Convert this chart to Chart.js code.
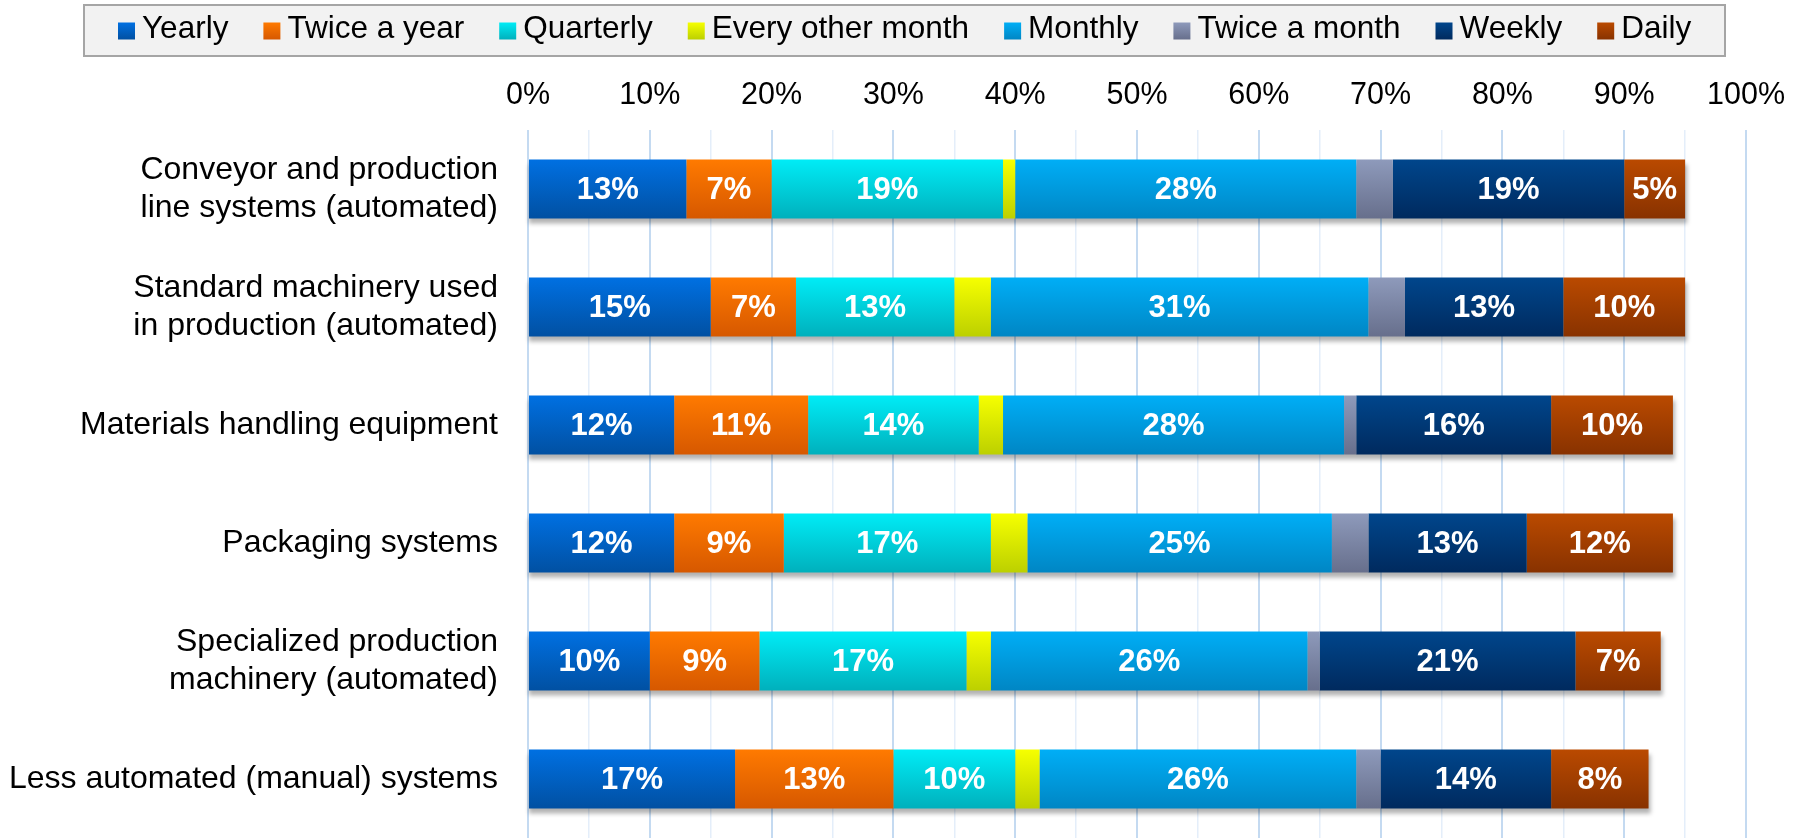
<!DOCTYPE html>
<html>
<head>
<meta charset="utf-8">
<script src="https://cdn.jsdelivr.net/npm/chart.js@4.4.1/dist/chart.umd.min.js"></script>
<style>
    html, body { margin: 0; padding: 0; background: #ffffff; }
    #wrap { width: 1806px; height: 838px; position: relative; }
</style>
</head>
<body>
<div id="wrap"><canvas id="chart"></canvas></div>
<script>
// Maintenance frequency by equipment type (% of respondents).
const CATEGORIES = [
    ['Conveyor and production', 'line systems (automated)'],
    ['Standard machinery used', 'in production (automated)'],
    'Materials handling equipment',
    'Packaging systems',
    ['Specialized production', 'machinery (automated)'],
    'Less automated (manual) systems',
];

const SERIES_NAMES = [
    'Yearly', 'Twice a year', 'Quarterly', 'Every other month',
    'Monthly', 'Twice a month', 'Weekly', 'Daily'
];

const YEARLY            = [13, 15, 12, 12, 10, 17];
const TWICE_A_YEAR      = [7, 7, 11, 9, 9, 13];
const QUARTERLY         = [19, 13, 14, 17, 17, 10];
const EVERY_OTHER_MONTH = [1, 3, 2, 3, 2, 2];
const MONTHLY           = [28, 31, 28, 25, 26, 26];
const TWICE_A_MONTH     = [3, 3, 1, 3, 1, 2];
const WEEKLY            = [19, 13, 16, 13, 21, 14];
const DAILY             = [5, 10, 10, 12, 7, 8];

const TICK_LABELS = ['0%', '10%', '20%', '30%', '40%', '50%', '60%', '70%', '80%', '90%', '100%'];

// [top, bottom] of each bar's vertical gradient
const SERIES_COLORS = [
    ['#0070e2', '#0150a2'],
    ['#ff7a00', '#d65800'],
    ['#00ecf6', '#00b0bc'],
    ['#f6ff00', '#bcd000'],
    ['#00aef6', '#0086c4'],
    ['#8e9abb', '#676f8c'],
    ['#00468c', '#002a5e'],
    ['#ba4a00', '#883200'],
];

const SERIES_VALUES = [YEARLY, TWICE_A_YEAR, QUARTERLY, EVERY_OTHER_MONTH, MONTHLY, TWICE_A_MONTH, WEEKLY, DAILY];

const FONT = '"Liberation Sans", Arial, sans-serif';

function barGradient(top, bottom) {
    return c => {
        const ys = c.chart.scales.y;
        if (c.type !== 'data' || !ys) return top;
        const yc = ys.getPixelForValue(c.dataIndex);
        const half = Math.abs(ys.getPixelForValue(1) - ys.getPixelForValue(0)) / 4;
        if (!isFinite(yc) || !isFinite(half) || half <= 0) return top;
        const g = c.chart.ctx.createLinearGradient(0, yc - half, 0, yc + half);
        g.addColorStop(0, top);
        g.addColorStop(1, bottom);
        return g;
    };
}

// Soft grey shadow under each stacked row.
const rowShadow = {
    id: 'rowShadow',
    beforeDatasetsDraw(chart) {
        const { ctx, scales: { x } } = chart;
        const meta = chart.getDatasetMeta(0);
        ctx.save();
        ctx.filter = 'blur(2px)';
        ctx.fillStyle = 'rgba(0,0,0,0.30)';
        meta.data.forEach((el, i) => {
            const total = SERIES_VALUES.reduce((s, arr) => s + arr[i], 0);
            const x0 = x.getPixelForValue(0);
            const x1 = x.getPixelForValue(total);
            ctx.fillRect(x0 + 1, el.y - el.height / 2 + 5, x1 - x0 + 1, el.height);
        });
        ctx.restore();
    },
};

// White percent labels centred in each segment.
const segmentLabels = {
    id: 'segmentLabels',
    afterDatasetsDraw(chart) {
        const { ctx } = chart;
        ctx.save();
        ctx.fillStyle = '#ffffff';
        ctx.font = 'bold 31px ' + FONT;
        ctx.textAlign = 'center';
        ctx.textBaseline = 'middle';
        chart.data.datasets.forEach((ds, di) => {
            chart.getDatasetMeta(di).data.forEach((el, i) => {
                const v = ds.data[i];
                if (v < 5) return;
                ctx.fillText(v + '%', (el.x + el.base) / 2, el.y + 1);
            });
        });
        ctx.restore();
    },
};

// Boxed legend across the top.
const boxLegend = {
    id: 'boxLegend',
    afterDraw(chart) {
        const { ctx } = chart;
        const sq = 17, gap = 7, spacing = 35, cy = 31;
        ctx.save();
        ctx.font = '31.5px ' + FONT;

        ctx.fillStyle = '#f2f2f2';
        ctx.fillRect(84, 5, 1641, 51);
        ctx.strokeStyle = '#a5a5a5';
        ctx.lineWidth = 2;
        ctx.strokeRect(84, 5, 1641, 51);

        ctx.textBaseline = 'middle';
        ctx.textAlign = 'left';
        let x = 118;
        chart.data.datasets.forEach((ds, i) => {
            const [top, bottom] = SERIES_COLORS[i];
            const g = ctx.createLinearGradient(0, cy - sq / 2, 0, cy + sq / 2);
            g.addColorStop(0, top);
            g.addColorStop(1, bottom);
            ctx.fillStyle = g;
            ctx.fillRect(x, cy - sq / 2, sq, sq);
            ctx.fillStyle = '#000000';
            ctx.fillText(ds.label, x + sq + gap, cy - 1.5);
            x += sq + gap + ctx.measureText(ds.label).width + spacing;
        });
        ctx.restore();
    },
};

const datasets = SERIES_NAMES.map((name, i) => ({
    label: name,
    data: SERIES_VALUES[i],
    backgroundColor: barGradient(SERIES_COLORS[i][0], SERIES_COLORS[i][1]),
    borderWidth: 0,
    categoryPercentage: 1.0,
    barPercentage: 0.5,
}));

new Chart(document.getElementById('chart'), {
    type: 'bar',
    data: { labels: CATEGORIES, datasets },
    plugins: [rowShadow, segmentLabels, boxLegend],
    options: {
        indexAxis: 'y',
        responsive: true,
        maintainAspectRatio: false,
        animation: false,
        layout: { padding: { top: 60, right: 60, left: 0, bottom: 0 } },
        plugins: {
            legend: { display: false },
            tooltip: { enabled: false },
        },
        scales: {
            x: {
                position: 'top',
                stacked: true,
                min: 0,
                max: 100,
                afterFit: s => { s.height = 70; },
                ticks: {
                    stepSize: 5,
                    autoSkip: false,
                    maxRotation: 0,
                    padding: 16,
                    color: '#000000',
                    font: { family: FONT, size: 30.5 },
                    callback: v => (v % 10 === 0 ? TICK_LABELS[v / 10] : ''),
                },
                grid: {
                    drawTicks: false,
                    color: c => (c.tick && c.tick.value % 10 === 0 ? '#c4daf1' : '#e4eefa'),
                    lineWidth: c => (c.tick && c.tick.value % 10 === 0 ? 2 : 1.5),
                },
                border: { display: false },
            },
            y: {
                stacked: true,
                afterFit: s => {
                    s.width = 528;
                    s.paddingTop = 0;
                    s.paddingBottom = 0;
                },
                ticks: {
                    padding: 30,
                    color: '#000000',
                    font: { family: FONT, size: 32 },
                },
                grid: { display: false, drawTicks: false },
                border: { display: false },
            },
        },
    },
});
</script>
</body>
</html>
